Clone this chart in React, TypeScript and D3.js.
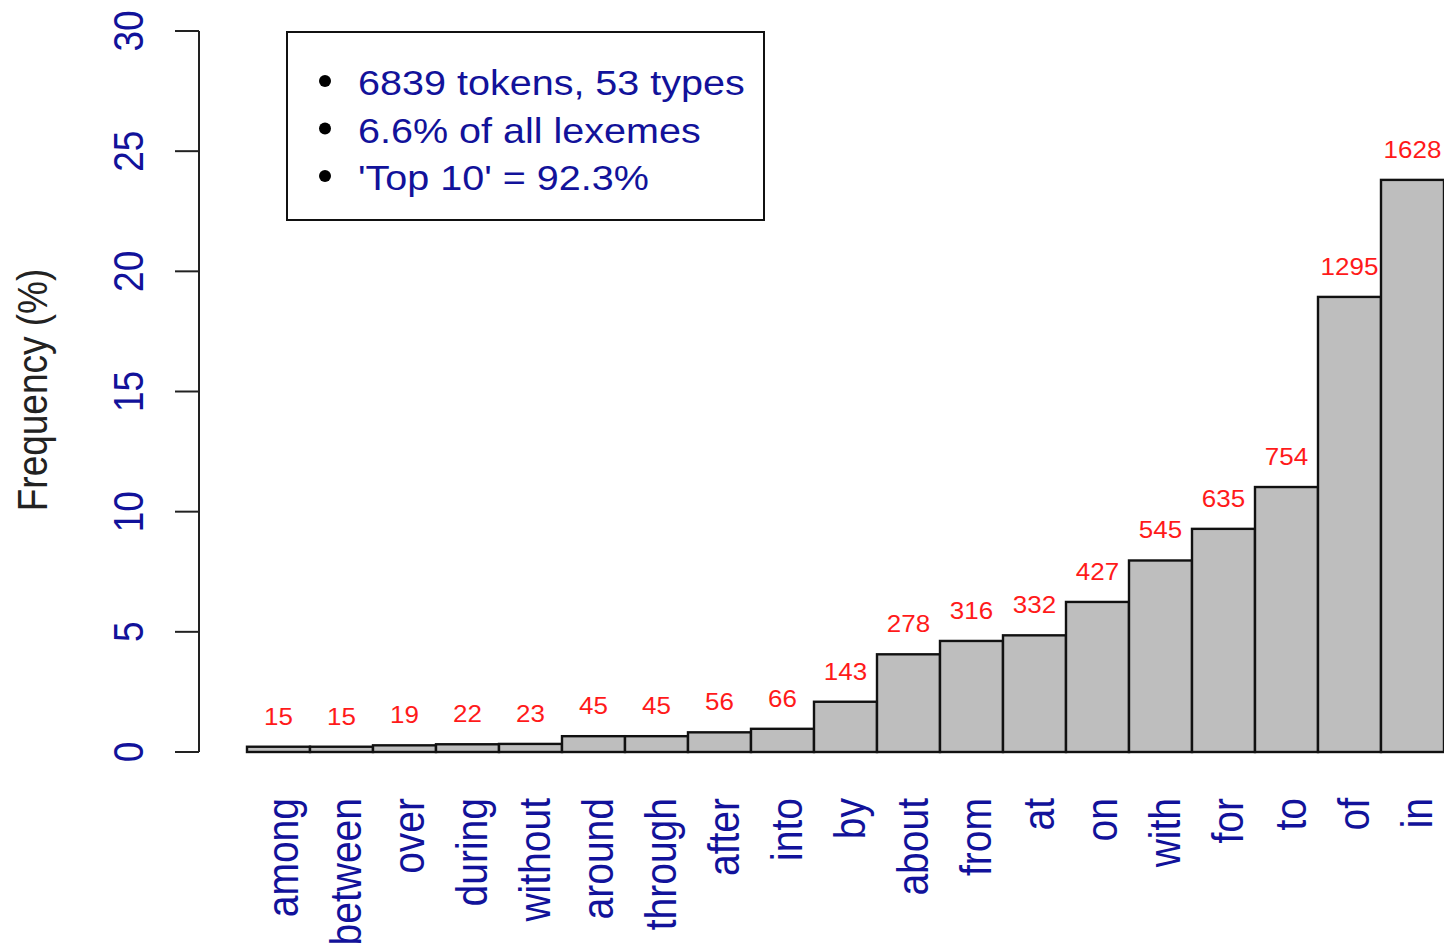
import { useEffect, useRef } from 'react'
import * as d3 from 'd3'

const categories = ['among', 'between', 'over', 'during', 'without', 'around', 'through', 'after', 'into', 'by', 'about', 'from', 'at', 'on', 'with', 'for', 'to', 'of', 'in']
const counts = [15, 15, 19, 22, 23, 45, 45, 56, 66, 143, 278, 316, 332, 427, 545, 635, 754, 1295, 1628]
const totalTokens = 6839
const yTicks = [0, 5, 10, 15, 20, 25, 30]
const legendLines = ['6839 tokens, 53 types', '6.6% of all lexemes', "'Top 10' = 92.3%"]

const FONT = "'Liberation Sans', Arial, Helvetica, sans-serif"
const BLUE = '#12129a'
const SX = 1.13 // the source image is stretched a little horizontally

export default function App() {
  const ref = useRef<SVGSVGElement | null>(null)
  useEffect(() => {
    const width = 1444
    const height = 948
    const svg = d3.select(ref.current)
    svg.selectAll('*').remove()
    svg.attr('width', width).attr('height', height).style('background', '#fff')

    const x = d3.scaleBand<string>().domain(categories).range([247, 1444]).padding(0)
    const y = d3.scaleLinear().domain([0, 30]).range([752, 31])
    const pct = counts.map((c) => (c / totalTokens) * 100)

    // bars
    svg
      .append('g')
      .selectAll('rect')
      .data(categories)
      .enter()
      .append('rect')
      .attr('x', (d) => x(d) as number)
      .attr('y', (_d, i) => y(pct[i]))
      .attr('width', x.bandwidth())
      .attr('height', (_d, i) => y(0) - y(pct[i]))
      .attr('fill', '#bebebe')
      .attr('stroke', '#111')
      .attr('stroke-width', 2.4)

    // value labels
    const vFont = 23
    svg
      .append('g')
      .selectAll('text')
      .data(categories)
      .enter()
      .append('text')
      .attr('transform', (d, i) => `translate(${(x(d) as number) + x.bandwidth() / 2},${y(pct[i]) - 22}) scale(${SX},1)`)
      .attr('text-anchor', 'middle')
      .attr('font-family', FONT)
      .attr('font-size', vFont)
      .attr('fill', '#ff1a1a')
      .text((_d, i) => String(counts[i]))

    // category labels (rotated)
    const cFont = 39
    svg
      .append('g')
      .selectAll('text')
      .data(categories)
      .enter()
      .append('text')
      .attr('transform', (d) => `translate(${(x(d) as number) + x.bandwidth() / 2 + 0.358 * cFont * SX + 4},798) scale(${SX},1) rotate(-90)`)
      .attr('text-anchor', 'end')
      .attr('font-family', FONT)
      .attr('font-size', cFont)
      .attr('fill', BLUE)
      .text((d) => d)

    // y axis
    const axis = svg.append('g')
    axis.append('line').attr('x1', 199).attr('x2', 199).attr('y1', y(30)).attr('y2', y(0)).attr('stroke', '#222').attr('stroke-width', 2)
    axis
      .selectAll('line.tick')
      .data(yTicks)
      .enter()
      .append('line')
      .attr('class', 'tick')
      .attr('x1', 175)
      .attr('x2', 199)
      .attr('y1', (d) => y(d))
      .attr('y2', (d) => y(d))
      .attr('stroke', '#222')
      .attr('stroke-width', 2)
    axis
      .selectAll('text')
      .data(yTicks)
      .enter()
      .append('text')
      .attr('transform', (d) => `translate(143,${y(d)}) scale(${SX},1) rotate(-90)`)
      .attr('text-anchor', 'middle')
      .attr('font-family', FONT)
      .attr('font-size', 37)
      .attr('fill', BLUE)
      .text((d) => String(d))

    // y axis title
    svg
      .append('text')
      .attr('transform', `translate(47,390) scale(${SX},1) rotate(-90)`)
      .attr('text-anchor', 'middle')
      .attr('font-family', FONT)
      .attr('font-size', 37)
      .attr('fill', '#222')
      .text('Frequency (%)')

    // legend box
    const lg = svg.append('g')
    lg.append('rect').attr('x', 287).attr('y', 32).attr('width', 477).attr('height', 188).attr('fill', '#fff').attr('stroke', '#111').attr('stroke-width', 2)
    legendLines.forEach((t, i) => {
      const base = 95 + i * 47.5
      lg.append('circle').attr('cx', 325).attr('cy', base - 14).attr('r', 6).attr('fill', '#000')
      lg.append('text')
        .attr('transform', `translate(358,${base}) scale(${SX},1)`)
        .attr('font-family', FONT)
        .attr('font-size', 35)
        .attr('fill', BLUE)
        .text(t)
    })
  }, [])
  return <svg ref={ref} style={{ position: 'absolute', left: 0, top: 0, display: 'block' }} />
}
